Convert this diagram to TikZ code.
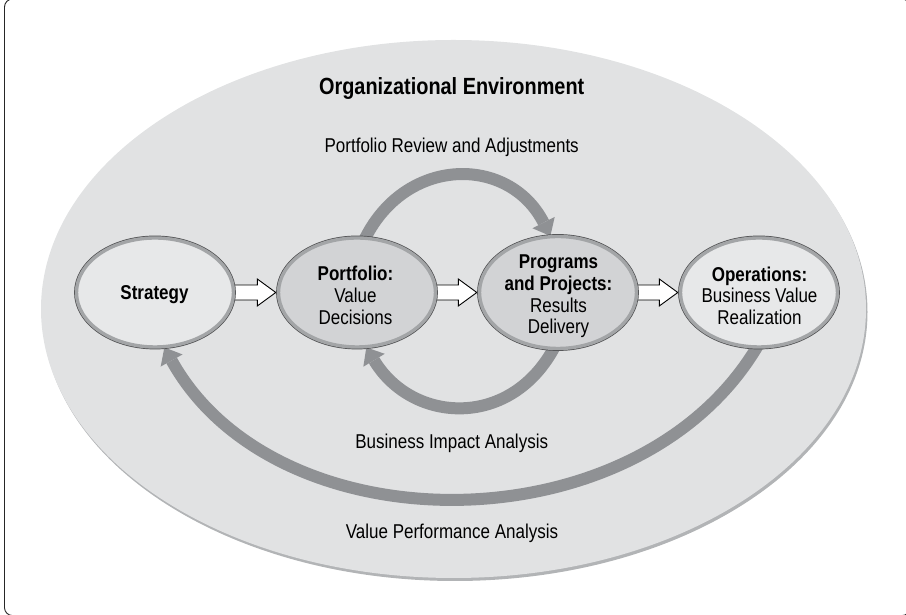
\documentclass[tikz,border=0pt]{standalone}
\usepackage{fontspec}
\setmainfont{Liberation Sans}[FakeStretch=0.85]
\usetikzlibrary{arrows.meta,calc,shapes.geometric}
\definecolor{envfill}{HTML}{E1E2E3}
\definecolor{envshadow}{HTML}{B2B4B6}
\definecolor{lightfill}{HTML}{E7E8E9}
\definecolor{darkfill}{HTML}{D2D3D5}
\definecolor{ringgray}{HTML}{A3A5A7}
\definecolor{outlinegray}{HTML}{4D4D4F}
\definecolor{flowgray}{HTML}{8F9194}
\pgfdeclarelayer{envlayer}
\pgfdeclarelayer{flowlayer}
\pgfsetlayers{envlayer,flowlayer,main}
\newcommand\hollowarrow[2]{%
  \draw[hollow] ($(#1.east)+(-4,7.5)$) -- ($(#2.west)+(-19.5,7.5)$) -- ($(#2.west)+(-19.5,13.5)$)
    -- ($(#2.west)+(-1,0)$) -- ($(#2.west)+(-19.5,-13.5)$) -- ($(#2.west)+(-19.5,-7.5)$)
    -- ($(#1.east)+(-4,-7.5)$);}
\begin{document}
\begin{tikzpicture}[x=1pt,y=1pt,
  bubble/.style={ellipse, inner sep=0pt, minimum width=157pt, minimum height=109pt,
    draw=ringgray, line width=3.4pt, preaction={draw=outlinegray, line width=4.8pt}},
  lbl/.style={align=center, font=\fontsize{20}{21.7}\selectfont, inner sep=0pt},
  flowtext/.style={font=\fontsize{20}{24}\selectfont, inner sep=0pt, anchor=base},
  hollow/.style={draw=black, fill=white, line width=0.9pt, line join=miter},
  flow/.style={draw=flowgray, line width=12pt,
    -{Triangle[width=25pt,length=15pt,line width=0pt]}}]
\useasboundingbox (0,0) rectangle (906,615);
% frame
\draw[line width=0.9pt, black!85, rounded corners=8pt] (4.5,-0.6) rectangle (910,616);
% environment
\begin{pgfonlayer}{envlayer}
\fill[envshadow] (455,303) ellipse [x radius=412.5, y radius=269];
\fill[envfill] (453.5,306) ellipse [x radius=412.5, y radius=269];
\end{pgfonlayer}
% nodes
\node[bubble, fill=lightfill] (s) at (155,322.5) {};
\node[bubble, fill=darkfill] (p) at (357,322.5) {};
\node[bubble, fill=darkfill, minimum height=112pt] (q) at (558,322.5) {};
\node[bubble, fill=lightfill] (o) at (759,322.5) {};
\node[lbl] (st) at (154.5,320.2) {\textbf{Strategy}};
\node[lbl] (pt) at (355.5,319.7) {\textbf{Portfolio:}\\Value\\Decisions};
\node[lbl] (qt) at (558.5,318.4) {\textbf{Programs}\\\textbf{and Projects:}\\Results\\Delivery};
\node[lbl] (ot) at (759.5,319.3) {\textbf{Operations:}\\Business Value\\Realization};
% texts
\node[flowtext, font=\fontsize{23.4}{28}\selectfont\bfseries] (title) at (451.7,520) {Organizational Environment};
\node[flowtext] (review) at (451.7,462.5) {Portfolio Review and Adjustments};
\node[flowtext] (impact) at (451.7,166.7) {Business Impact Analysis};
\node[flowtext] (perf) at (452,76) {Value Performance Analysis};
% connectors
\begin{pgfonlayer}{flowlayer}
\hollowarrow{s}{p}
\hollowarrow{p}{q}
\hollowarrow{q}{o}
\draw[flow, shorten <=-6pt, shorten >=-1pt] (p.81) to[out=65,in=117,looseness=1.25] (q.98);
\draw[flow, shorten <=-6pt, shorten >=-1pt] (q.265) to[out=-117,in=-59,looseness=1.22] (p.280);
\draw[flow, shorten <=-6pt, shorten >=-1pt] (o.267) to[out=-120,in=-61,looseness=1.0] (s.280);
\end{pgfonlayer}
\end{tikzpicture}
\end{document}
